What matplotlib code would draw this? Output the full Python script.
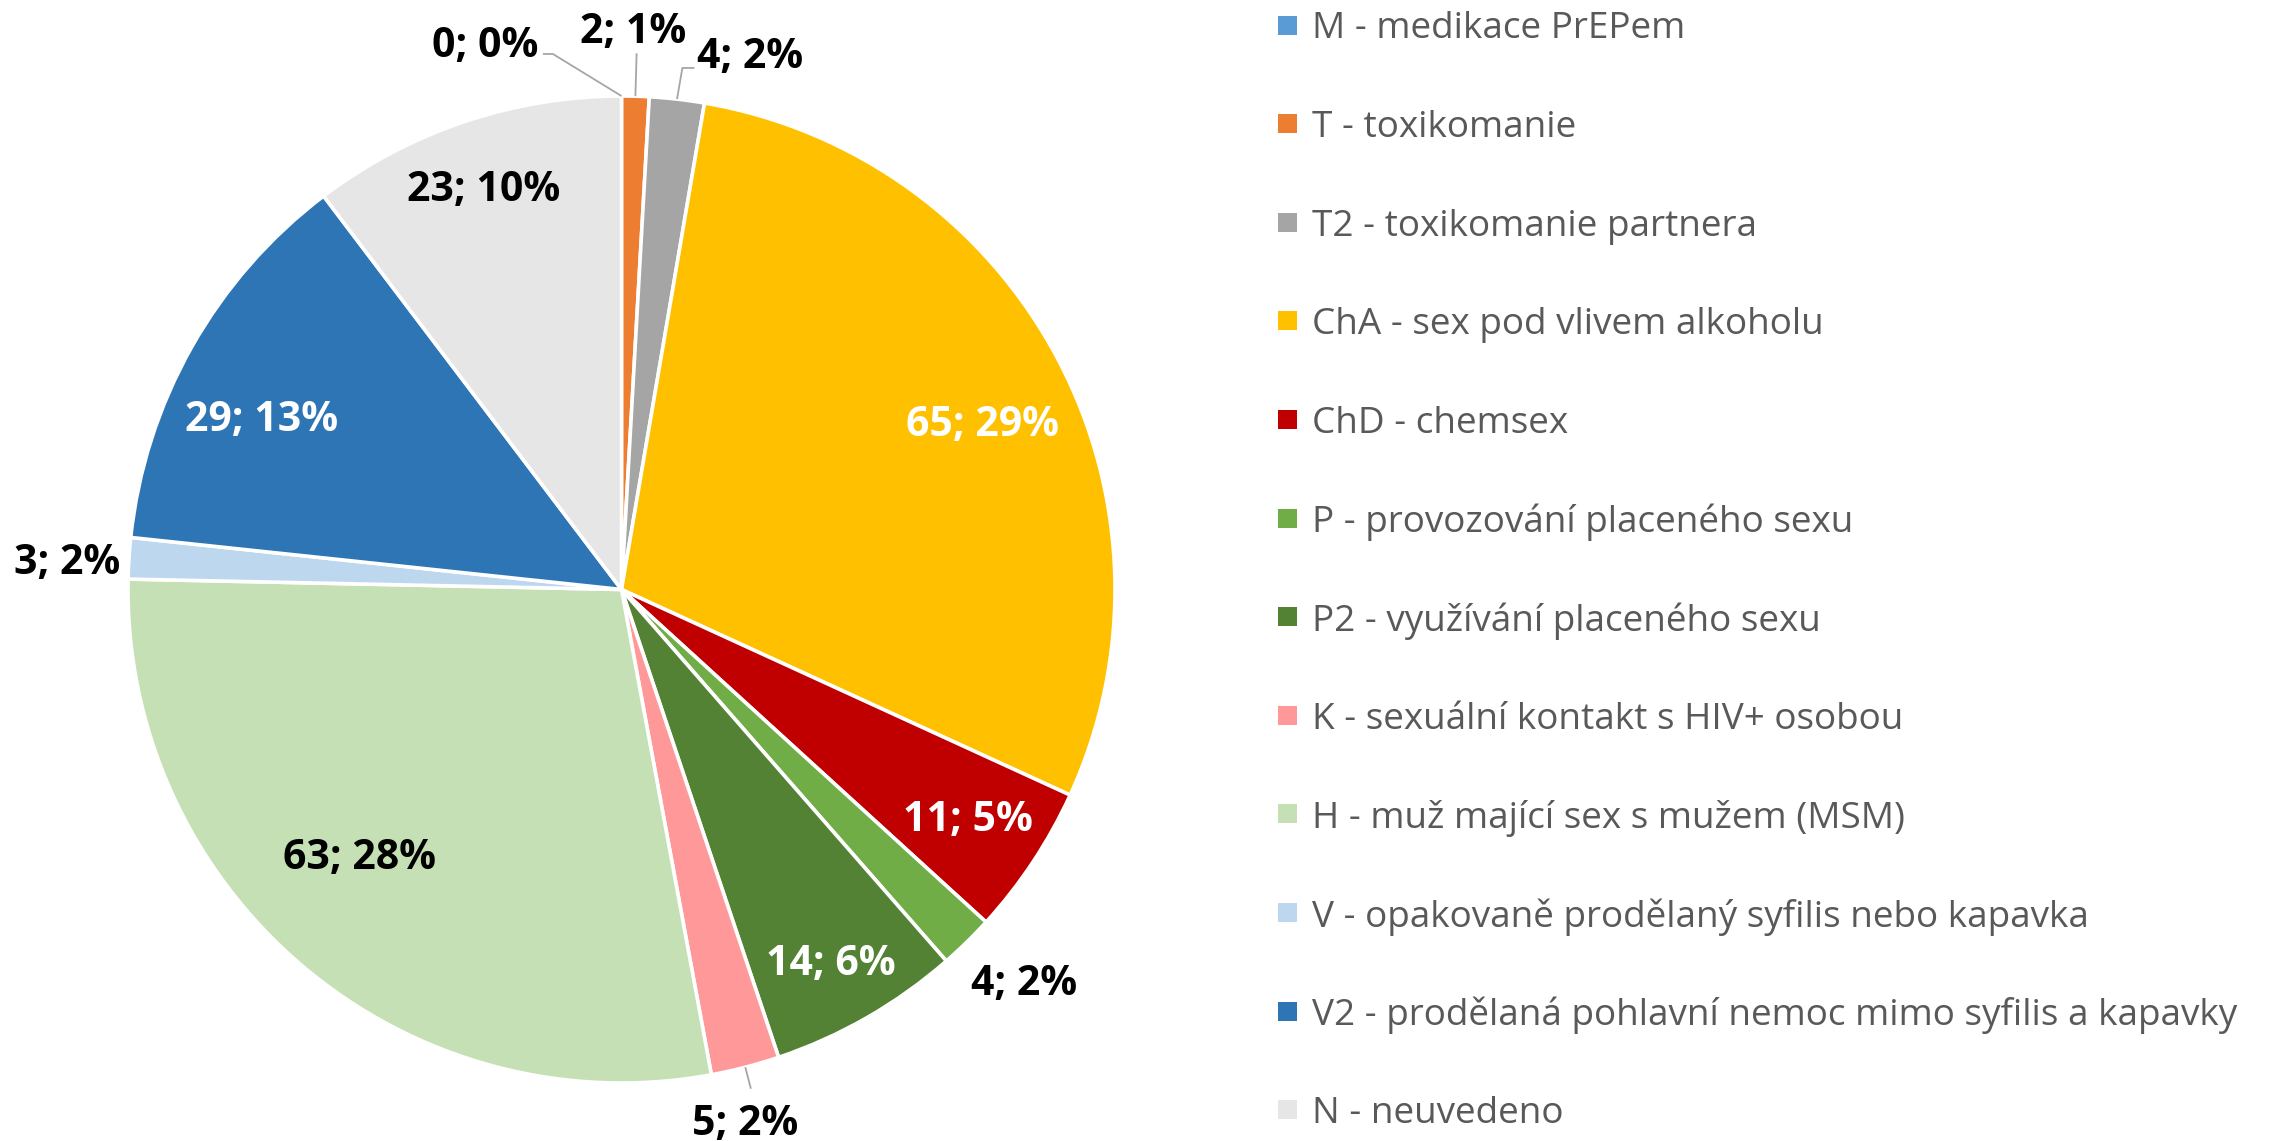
import numpy as np
import matplotlib.pyplot as plt
from matplotlib.patches import Rectangle

plt.rcParams['font.family'] = ['Open Sans', 'DejaVu Sans']

# data
codes = ["M", "T", "T2", "ChA", "ChD", "P", "P2", "K", "H", "V", "V2", "N"]
names = ["medikace PrEPem", "toxikomanie", "toxikomanie partnera",
         "sex pod vlivem alkoholu", "chemsex", "provozování placeného sexu",
         "využívání placeného sexu", "sexuální kontakt s HIV+ osobou",
         "muž mající sex s mužem (MSM)",
         "opakovaně prodělaný syfilis nebo kapavka",
         "prodělaná pohlavní nemoc mimo syfilis a kapavky", "neuvedeno"]
counts = [0, 2, 4, 65, 11, 4, 14, 5, 63, 3, 29, 23]
pct_labels = ["0%", "1%", "2%", "29%", "5%", "2%", "6%", "2%", "28%", "2%", "13%", "10%"]

colors = ["#5B9BD5", "#ED7D31", "#A5A5A5", "#FFC000", "#C00000", "#70AD47",
          "#548235", "#FF9999", "#C5E0B4", "#BDD7EE", "#2E75B6", "#E6E6E6"]

# label placement (radius as fraction of R, angle nudge in degrees, text colour)
lab_r     = [1.143, 1.138, 1.116, 0.807, 0.84, 1.137, 0.863, 1.104, 0.754, 1.126, 0.81, 0.862]
lab_shift = [14.0, 0.4, -7.0, -2.9, 0.3, 1.5, -0.4, -1.4, -4.3, 0.5, 3.8, 0.3]
lab_col   = ["black", "black", "black", "white", "white", "black",
             "white", "black", "black", "black", "white", "black"]
# leaders: index -> (elbow radius, elbow angle nudge, horizontal stub px)
leaders = {0: (1.094, 7.3, -10), 1: (1.087, 0.0, 0), 2: (1.064, -0.2, 12), 7: (1.045, 0.0, 0)}

W, H = 2274, 1141
fig = plt.figure(figsize=(W / 100, H / 100), dpi=100)
ax = fig.add_axes([0, 0, 1, 1])

cx, cy, R = 621.5, H - 589.5, 493.5
wedges, _ = ax.pie(counts, colors=colors, startangle=90, counterclock=False,
                   center=(cx, cy), radius=R,
                   wedgeprops=dict(edgecolor="white", linewidth=2.6))

for i, w in enumerate(wedges):
    mid = np.deg2rad((w.theta1 + w.theta2) / 2)
    th = mid + np.deg2rad(lab_shift[i])
    x = cx + lab_r[i] * R * np.cos(th)
    y = cy + lab_r[i] * R * np.sin(th) - 4
    ax.text(x, y, f"{counts[i]}; {pct_labels[i]}", ha="center", va="center",
            fontsize=29.5, fontweight="bold", color=lab_col[i])
    if i in leaders:
        re, da, stub = leaders[i]
        x0, y0 = cx + R * np.cos(mid), cy + R * np.sin(mid)
        te = mid + np.deg2rad(da)
        x1, y1 = cx + re * R * np.cos(te), cy + re * R * np.sin(te)
        ax.plot([x0, x1, x1 + stub], [y0, y1, y1], color="#A6A6A6", lw=1.3,
                solid_capstyle="butt")

ax.set_xlim(0, W)
ax.set_ylim(0, H)
ax.set_aspect("equal")
ax.axis("off")

# legend
for i, (c, n) in enumerate(zip(codes, names)):
    yc = H - (25 + i * 98.6)
    ax.add_patch(Rectangle((1278, yc - 9.5), 19, 19, facecolor=colors[i],
                           edgecolor="none"))
    ax.text(1312, yc, f"{c} - {n}", ha="left", va="center_baseline",
            fontsize=26.6, color="#595959")

fig.savefig("out.png", dpi=100)
